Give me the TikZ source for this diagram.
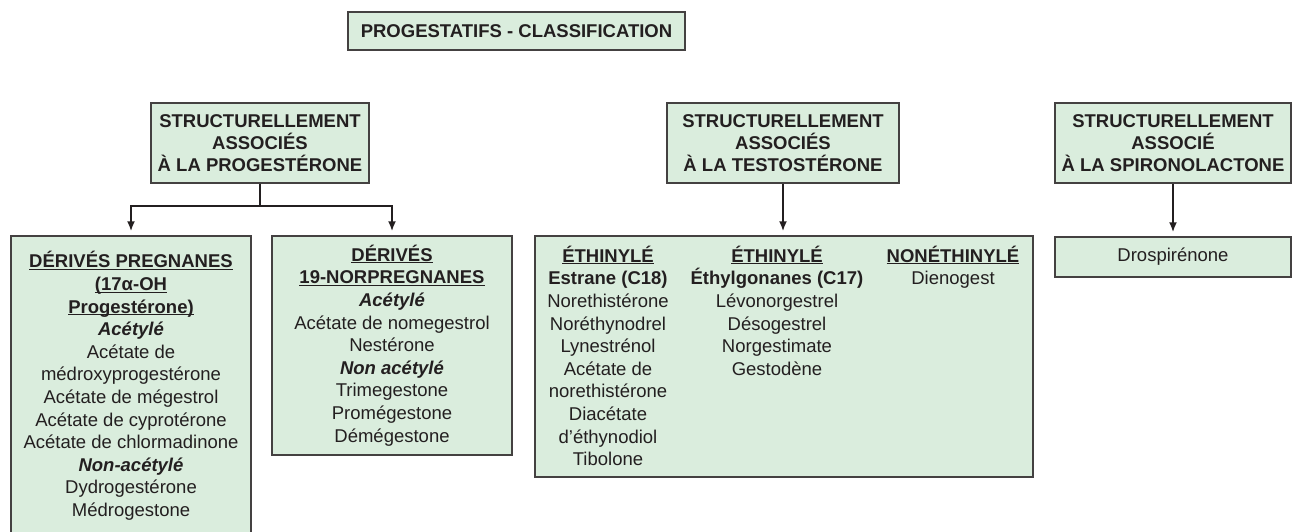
\documentclass[tikz,border=0pt]{standalone}
\usepackage{fontspec}
\setmainfont{Liberation Sans}
\usepackage{tikz}
\usetikzlibrary{arrows,arrows.meta}
\definecolor{boxgreen}{HTML}{DAEDDD}
\definecolor{ink}{HTML}{231F20}
\newcommand{\hd}[1]{\underline{\smash{\textbf{#1}}\vphantom{A}}\vphantom{Ég}}
\newcommand{\sub}[1]{\textbf{\textit{#1}}}

\begin{document}
\begin{tikzpicture}[x=1pt,y=-1pt,
    box/.style={draw=ink!85, fill=boxgreen, line width=1.5pt, inner sep=0pt, align=center, text=ink, font=\fontsize{18.5}{22.6}\selectfont},
    head/.style={box, font=\fontsize{18.5}{22.3}\selectfont\bfseries},
    col/.style={inner sep=0pt, align=center, text=ink, anchor=north, font=\fontsize{18.5}{22.6}\selectfont},
    arr/.style={ink, line width=1.8pt, -{Latex[length=10pt,width=8pt]}, shorten >=4pt}]
        \useasboundingbox (0,0) rectangle (1299,532);

        % titre et familles
        \node[head, minimum width=337, minimum height=38] (titre) at (516.5,31) {PROGESTATIFS - CLASSIFICATION};
        \node[head, minimum width=218, minimum height=80] (progest) at (260,143) {STRUCTURELLEMENT\\ASSOCIÉS\\À LA PROGESTÉRONE};
        \node[head, minimum width=232, minimum height=80] (testost) at (783,143) {STRUCTURELLEMENT\\ASSOCIÉS\\À LA TESTOSTÉRONE};
        \node[head, minimum width=236, minimum height=80] (spiro) at (1173,143) {STRUCTURELLEMENT\\ASSOCIÉ\\À LA SPIRONOLACTONE};

        % derives
        \node[box, minimum width=240, minimum height=300] (pregn) at (131,386) {\hd{DÉRIVÉS PREGNANES}\\\hd{(17α-OH}\\\hd{Progestérone)}\\\sub{Acétylé}\\Acétate de\\médroxyprogestérone\\Acétate de mégestrol\\Acétate de cyprotérone\\Acétate de chlormadinone\\\sub{Non-acétylé}\\Dydrogestérone\\Médrogestone};
        \node[box, minimum width=240, minimum height=219] (norpregn) at (392,345.5) {\hd{DÉRIVÉS}\\\hd{19-NORPREGNANES}\\\sub{Acétylé}\\Acétate de nomegestrol\\Nestérone\\\sub{Non acétylé}\\Trimegestone\\Promégestone\\Démégestone};
        \node[box, minimum width=498, minimum height=241] (derives) at (784,356.5) {};
        \node[col] (ethA) at (608,246) {\hd{ÉTHINYLÉ}\\\textbf{Estrane (C18)}\\Norethistérone\\Noréthynodrel\\Lynestrénol\\Acétate de\\norethistérone\\Diacétate\\d’éthynodiol\\Tibolone};
        \node[col] (ethB) at (777,246) {\hd{ÉTHINYLÉ}\\\textbf{Éthylgonanes (C17)}\\Lévonorgestrel\\Désogestrel\\Norgestimate\\Gestodène};
        \node[col] (noneth) at (953,246) {\hd{NONÉTHINYLÉ}\\Dienogest};
        \node[box, minimum width=236, minimum height=40] (drosp) at (1173,257) {Drospirénone};

        % fleches
        \draw[ink, line width=1.8pt] (progest.south) -- ++(0,22) coordinate (jonc);
        \draw[arr] (jonc) -| (pregn.north);
        \draw[arr] (jonc) -| (norpregn.north);
        \draw[arr] (testost.south) -- (testost.south |- derives.north);
        \draw[arr] (spiro.south) -- (drosp.north);
\end{tikzpicture}
\end{document}
